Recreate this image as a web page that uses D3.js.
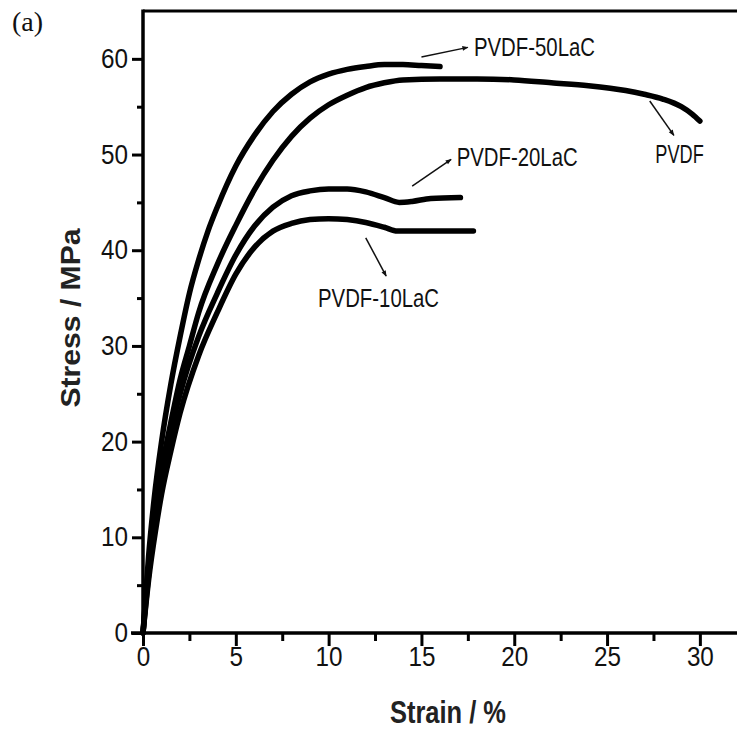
<!DOCTYPE html>
<html>
<head>
<meta charset="utf-8">
<script src="https://cdn.jsdelivr.net/npm/d3@7"></script>
<style>
  body { margin: 0; background: #fff; }
  svg { display: block; }
</style>
</head>
<body>
<div id="chart"></div>
<script>
// stress-strain curves, [strain %, stress MPa]
const pvdf50 = [[0,0],[0.3,8],[0.6,14],[1,20],[1.5,26],[2,31],[2.5,35.5],[3,39],[3.5,42],[4,44.5],[5,48.8],[6,52],[7,54.5],[8,56.3],[9,57.6],[10,58.4],[11,58.9],[12,59.2],[13,59.4],[14,59.4],[15,59.3],[16,59.2]];
const pvdf = [[0,0],[0.3,7],[0.7,13],[1,17],[1.5,22],[2,26.5],[2.5,30],[3,33.5],[4,38.5],[5,42.6],[6,46.3],[7,49.4],[8,51.9],[9,53.8],[10,55.2],[11,56.2],[12,57],[13,57.5],[14,57.8],[16,57.9],[18,57.9],[20,57.8],[22,57.5],[24,57.2],[26,56.7],[27,56.3],[28,55.8],[29,55],[29.6,54.2],[30,53.5]];
const pvdf20 = [[0,0],[0.3,6],[0.7,12],[1,16],[1.5,21],[2,25],[3,31],[4,35.5],[5,39.5],[6,42.5],[7,44.5],[8,45.7],[9,46.2],[10,46.4],[11,46.4],[12,46.1],[13,45.5],[13.8,45.0],[14.5,45.1],[15.5,45.4],[17.1,45.5]];
const pvdf10 = [[0,0],[0.3,5.5],[0.7,11],[1,14.5],[1.5,19],[2,23],[3,29],[4,33.5],[5,37.5],[6,40.3],[7,42],[8,42.8],[9,43.2],[10,43.3],[11,43.2],[12,42.9],[13,42.4],[13.7,42.0],[15,42.0],[17.8,42.0]];

const xTicks = [0, 5, 10, 15, 20, 25, 30];
const xMinor = [2.5, 7.5, 12.5, 17.5, 22.5, 27.5];
const yTicks = [0, 10, 20, 30, 40, 50, 60];
const yMinor = [5, 15, 25, 35, 45, 55];

// label text, text start point, arrow from, arrow to (data units)
const labels = ["PVDF-50LaC", "PVDF-20LaC", "PVDF", "PVDF-10LaC"];
const labelAt = [[17.83, 60.3], [16.9, 48.8], [27.6, 49.1], [9.43, 34.1]];
const arrowFrom = [[15.0, 60.2], [14.5, 46.7], [27.3, 55.6], [12.0, 41.3]];
const arrowTo = [[17.5, 61.2], [16.6, 49.5], [28.6, 52.0], [13.1, 37.3]];

const W = 737, H = 735;
const x = d3.scaleLinear().domain([0, 32]).range([143, 737]);
const y = d3.scaleLinear().domain([0, 65]).range([633, 11]);

const svg = d3.select("#chart").append("svg").attr("width", W).attr("height", H);

svg.append("defs").append("marker")
  .attr("id", "arrow")
  .attr("viewBox", "0 0 10 10")
  .attr("refX", 9).attr("refY", 5)
  .attr("markerWidth", 8).attr("markerHeight", 6)
  .attr("markerUnits", "userSpaceOnUse")
  .attr("orient", "auto")
  .append("path").attr("d", "M0,1L10,5L0,9Z").attr("fill", "#111");

const font = "'Liberation Sans', Arial, sans-serif";
const charW = 13.5; // condensed digit width

// top border
svg.append("line")
  .attr("x1", x(0)).attr("x2", W)
  .attr("y1", y(65)).attr("y2", y(65))
  .attr("stroke", "#000").attr("stroke-width", 3);

function styleAxis(g) {
  g.select(".domain").remove();
  g.selectAll("line").attr("stroke", "#000").attr("stroke-width", 3);
  g.selectAll("text")
    .attr("font-family", font).attr("font-size", 27).attr("fill", "#111")
    .each(function() {
      const t = d3.select(this);
      if (t.text()) t.attr("textLength", t.text().length * charW).attr("lengthAdjust", "spacingAndGlyphs");
    });
}

// x axis
svg.append("g").attr("transform", `translate(0,${y(0)})`)
  .call(d3.axisBottom(x).tickValues(xTicks).tickSize(13).tickPadding(1).tickFormat(d3.format("d")))
  .call(styleAxis);
svg.append("g").attr("transform", `translate(0,${y(0)})`)
  .call(d3.axisBottom(x).tickValues(xMinor).tickSize(8).tickFormat(""))
  .call(styleAxis);
svg.append("line")
  .attr("x1", x(0) - 12).attr("x2", W)
  .attr("y1", y(0)).attr("y2", y(0))
  .attr("stroke", "#000").attr("stroke-width", 3.5);

// y axis
svg.append("g").attr("transform", `translate(${x(0)},0)`)
  .call(d3.axisLeft(y).tickValues(yTicks).tickSize(11).tickPadding(4).tickFormat(d3.format("d")))
  .call(styleAxis);
svg.append("g").attr("transform", `translate(${x(0)},0)`)
  .call(d3.axisLeft(y).tickValues(yMinor).tickSize(6).tickFormat(""))
  .call(styleAxis);
svg.append("line")
  .attr("x1", x(0)).attr("x2", x(0))
  .attr("y1", y(65) - 1.5).attr("y2", y(0))
  .attr("stroke", "#000").attr("stroke-width", 3.5);

// curves
const line = d3.line().x(d => x(d[0])).y(d => y(d[1])).curve(d3.curveMonotoneX);
[pvdf10, pvdf20, pvdf, pvdf50].forEach(s => {
  svg.append("path")
    .attr("d", line(s))
    .attr("fill", "none")
    .attr("stroke", "#000")
    .attr("stroke-width", 5.5)
    .attr("stroke-linecap", "round");
});

// annotations
labels.forEach((t, i) => {
  svg.append("line")
    .attr("x1", x(arrowFrom[i][0])).attr("y1", y(arrowFrom[i][1]))
    .attr("x2", x(arrowTo[i][0])).attr("y2", y(arrowTo[i][1]))
    .attr("stroke", "#111").attr("stroke-width", 1.5)
    .attr("marker-end", "url(#arrow)");
  svg.append("text")
    .attr("x", x(labelAt[i][0])).attr("y", y(labelAt[i][1]))
    .attr("font-family", font).attr("font-size", 26)
    .attr("textLength", t.length * 12.1).attr("lengthAdjust", "spacingAndGlyphs")
    .attr("fill", "#111")
    .text(t);
});

// axis titles
svg.append("text")
  .attr("x", 448).attr("y", 723)
  .attr("text-anchor", "middle")
  .attr("font-family", font).attr("font-size", 31).attr("font-weight", "bold")
  .attr("textLength", 116).attr("lengthAdjust", "spacingAndGlyphs")
  .attr("fill", "#222")
  .text("Strain / %");

svg.append("text")
  .attr("transform", "translate(80,318) rotate(-90)")
  .attr("text-anchor", "middle")
  .attr("font-family", font).attr("font-size", 28).attr("font-weight", "bold")
  .attr("textLength", 179).attr("lengthAdjust", "spacingAndGlyphs")
  .attr("fill", "#222")
  .text("Stress / MPa");

svg.append("text")
  .attr("x", 12).attr("y", 31)
  .attr("font-family", "'Liberation Serif', 'Times New Roman', serif")
  .attr("font-size", 28)
  .attr("fill", "#111")
  .text("(a)");
</script>
</body>
</html>
